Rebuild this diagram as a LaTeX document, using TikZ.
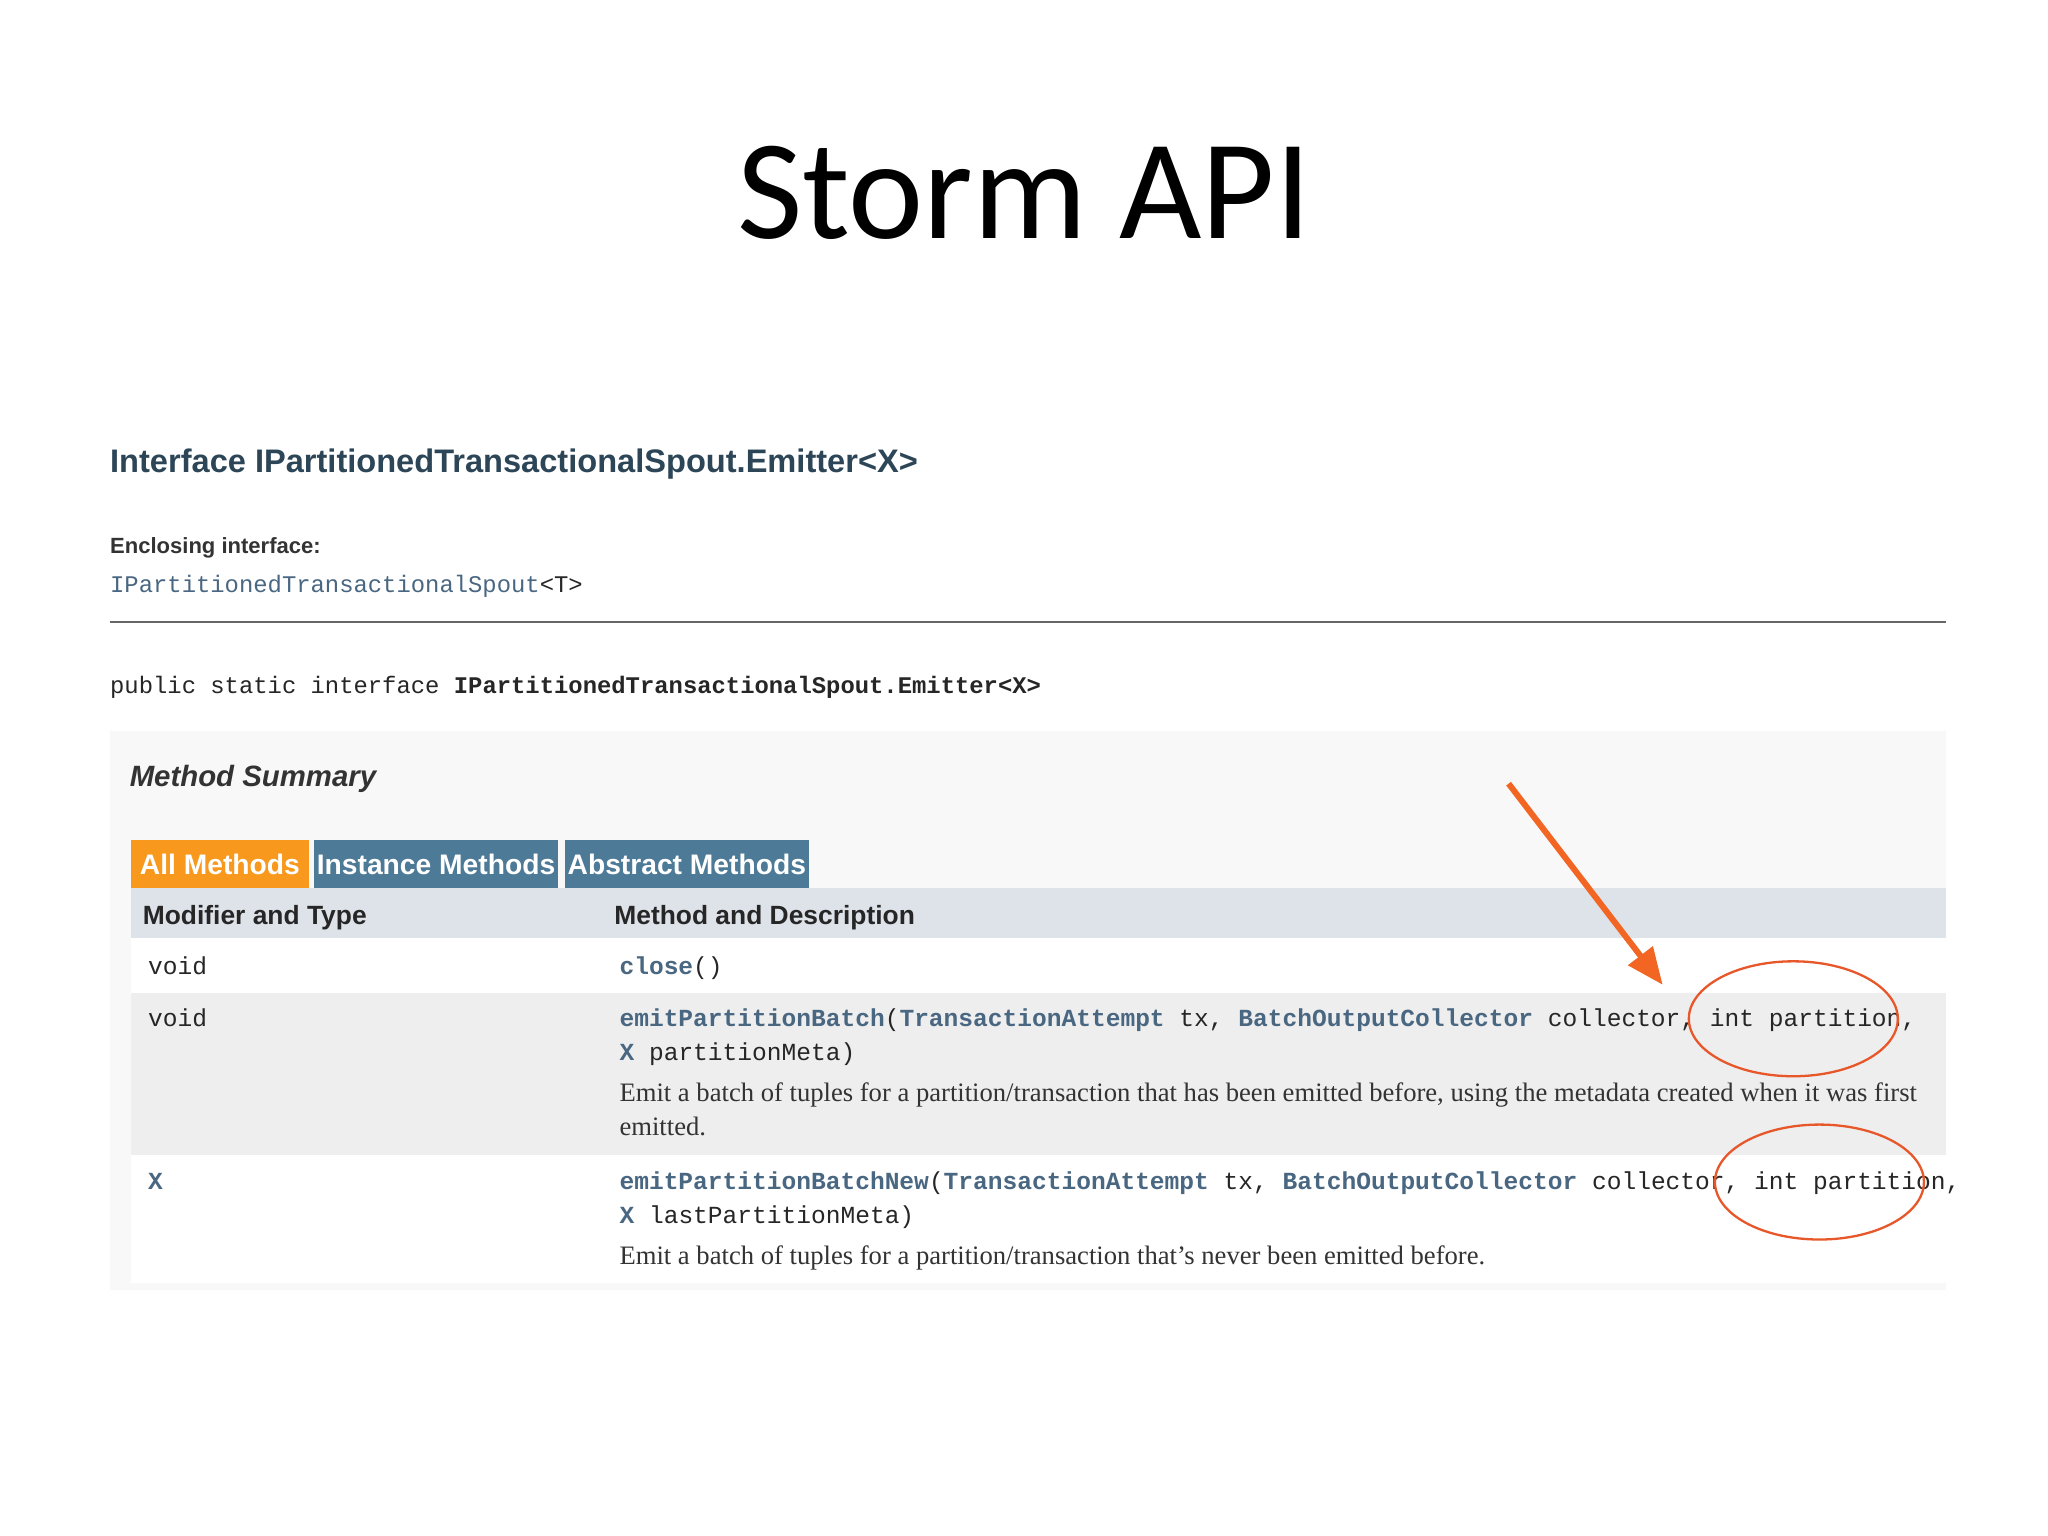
\documentclass[tikz,border=0pt]{standalone}
\usepackage{fontspec}
\setmainfont{Liberation Serif}
\setsansfont{Liberation Sans}
\setmonofont{Liberation Mono}
\newfontfamily\titlefont{Carlito}
\usetikzlibrary{arrows.meta}
\definecolor{hdr}{HTML}{2C4557}
\definecolor{lnk}{HTML}{4A6782}
\definecolor{tabo}{HTML}{F8981D}
\definecolor{tabb}{HTML}{4D7A97}
\definecolor{thead}{HTML}{DEE3E9}
\definecolor{rowg}{HTML}{EEEEEF}
\definecolor{boxbg}{HTML}{F8F8F8}
\definecolor{circcol}{HTML}{E8572A}
\definecolor{arrcol}{HTML}{F26522}
\newcommand{\lk}[1]{\textcolor{lnk}{\bfseries #1}}
\begin{document}
\begin{tikzpicture}[x=0.02cm,y=-0.02cm,
  txt/.style={anchor=base west,inner sep=0pt},
  mono/.style={txt,font=\fontsize{10.7}{13}\ttfamily,text=black!85},
  tab/.style={fill=#1,text=white,font=\fontsize{12.3}{14}\sffamily\bfseries,inner sep=0pt,anchor=north west,minimum height=37*0.02cm}]
\useasboundingbox (0,0) rectangle (1568,1176);
\fill[white] (0,0) rectangle (1568,1176);
\node[font=\fontsize{62}{70}\titlefont] (title) at (784,148) {Storm API};
\node[txt,font=\fontsize{14.2}{16}\sffamily\bfseries,text=hdr] (iface) at (84,362) {Interface IPartitionedTransactionalSpout.Emitter<X>};
\node[txt,font=\fontsize{9.6}{12}\sffamily\bfseries,text=black!80] (encl) at (84,424) {Enclosing interface:};
\node[txt,font=\fontsize{10.4}{12}\ttfamily,text=lnk] (encli) at (84,454) {IPartitionedTransactionalSpout\textcolor{black!85}{<T>}};
\coordinate (l1) at (84,476); \coordinate (l2) at (1490,476);
\draw[black!60,line width=0.7pt] (l1) -- (l2);
\node[txt,font=\fontsize{10.4}{12}\ttfamily,text=black!85] (decl) at (84,531) {public static interface \textbf{IPartitionedTransactionalSpout.Emitter<X>}};
\fill[boxbg] (84,560) rectangle (1490,988);
\node[txt,font=\fontsize{12.8}{15}\sffamily\bfseries\itshape,text=black!80] (ms) at (99,602) {Method Summary};
\node[tab=tabo,minimum width=136*0.02cm] (t1) at (100,643) {All Methods};
\node[tab=tabb,minimum width=187*0.02cm] (t2) at (240,643) {Instance Methods};
\node[tab=tabb,minimum width=187*0.02cm] (t3) at (432,643) {Abstract Methods};
\fill[thead] (100,680) rectangle (1490,718);
\fill[white] (100,718) rectangle (1490,760);
\fill[rowg] (100,760) rectangle (1490,884);
\fill[white] (100,884) rectangle (1490,982);
\node[txt,font=\fontsize{11.5}{14}\sffamily\bfseries,text=black!85] (h1) at (109,708) {Modifier and Type};
\node[txt,font=\fontsize{11.5}{14}\sffamily\bfseries,text=black!85] (h2) at (470,708) {Method and Description};
\node[mono] (r1a) at (113,746) {void};
\node[mono] (r1b) at (474,746) {\lk{close}()};
\node[mono] (r2a) at (113,786) {void};
\node[mono] (r2b) at (474,786) {\lk{emitPartitionBatch}(\lk{TransactionAttempt} tx, \lk{BatchOutputCollector} collector, int partition,};
\node[mono] (r2c) at (474,812) {\lk{X} partitionMeta)};
\node[txt,font=\fontsize{11.6}{14}\selectfont,text=black!80] (r2d) at (474,843) {Emit a batch of tuples for a partition/transaction that has been emitted before, using the metadata created when it was first};
\node[txt,font=\fontsize{11.6}{14}\selectfont,text=black!80] (r2e) at (474,869) {emitted.};
\node[mono] (r3a) at (113,911) {\lk{X}};
\node[mono] (r3b) at (474,911) {\lk{emitPartitionBatchNew}(\lk{TransactionAttempt} tx, \lk{BatchOutputCollector} collector, int partition,};
\node[mono] (r3c) at (474,937) {\lk{X} lastPartitionMeta)};
\node[txt,font=\fontsize{11.6}{14}\selectfont,text=black!80] (r3d) at (474,968) {Emit a batch of tuples for a partition/transaction that's never been emitted before.};
\draw[circcol,line width=1pt] (1373,780) ellipse [x radius=80,y radius=44];
\draw[circcol,line width=1pt] (1393,905) ellipse [x radius=80,y radius=44];
\coordinate (a1) at (1155,600); \coordinate (a2) at (1273,754);
\draw[arrcol,line width=2.6pt,-{Triangle[length=16pt,width=13pt]}] (a1) -- (a2);
\end{tikzpicture}
\end{document}
